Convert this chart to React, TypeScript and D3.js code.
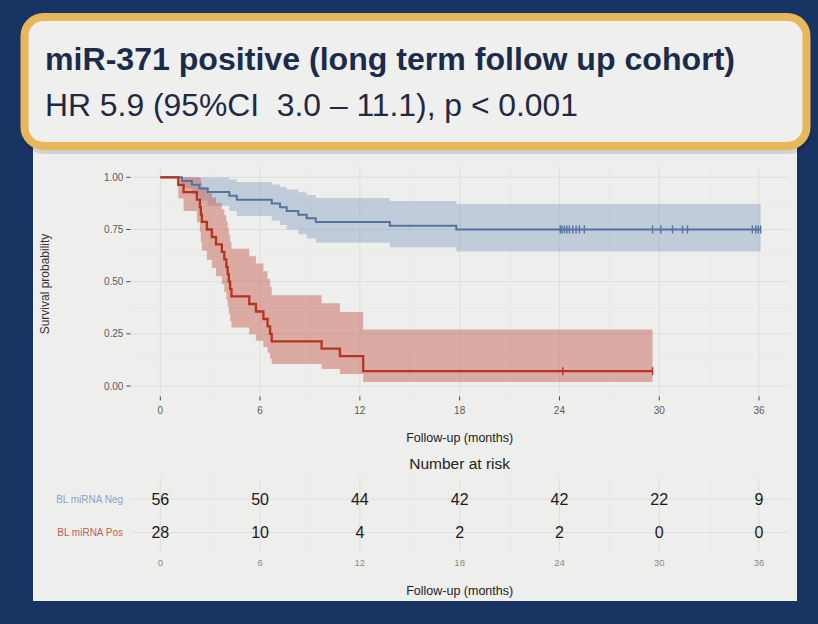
// Kaplan-Meier panel: survival by baseline miR-371 status, with number-at-risk table
import React, {useEffect, useRef} from "react";
import * as d3 from "d3";

const title = "miR-371 positive (long term follow up cohort)";
const subtitle = "HR 5.9 (95%CI  3.0 \u2013 11.1), p < 0.001";

const groupNames = ["BL miRNA Neg", "BL miRNA Pos"];

// BL miRNA Neg: step times (months), survival and 95% band
const negTimes = [0, 1.3, 1.9, 2.35, 2.85, 4.15, 4.6, 6.7, 7.2, 7.6, 8.3, 8.8, 9.35, 13.8, 17.8, 36.1];
const negSurv = [1, 0.982, 0.964, 0.946, 0.929, 0.911, 0.893, 0.875, 0.857, 0.839, 0.821, 0.804, 0.786, 0.768, 0.75, 0.75];
const negLower = [1, 0.948, 0.917, 0.889, 0.864, 0.839, 0.815, 0.793, 0.771, 0.749, 0.727, 0.707, 0.686, 0.665, 0.645, 0.645];
const negUpper = [1, 1, 1, 1, 0.999, 0.989, 0.978, 0.966, 0.954, 0.941, 0.928, 0.915, 0.901, 0.887, 0.872, 0.872];
const negCensored = [24.05, 24.15, 24.3, 24.45, 24.6, 24.8, 25.0, 25.2, 25.5, 29.6, 30.1, 30.8, 31.4, 31.7, 35.6, 35.8, 35.95, 36.1];

// BL miRNA Pos
const posTimes = [0, 1.08, 1.4, 2.2, 2.38, 2.44, 2.5, 2.8, 3.1, 3.35, 3.7, 3.85, 3.97, 4.05, 4.12, 4.2, 4.28, 5.35, 5.75, 6.2, 6.45, 6.6, 6.7, 9.7, 10.8, 12.2, 29.6];
const posSurv = [1, 0.964, 0.929, 0.893, 0.857, 0.821, 0.786, 0.75, 0.714, 0.679, 0.643, 0.607, 0.571, 0.536, 0.5, 0.464, 0.429, 0.393, 0.357, 0.321, 0.286, 0.25, 0.214, 0.179, 0.143, 0.071, 0.071];
const posLower = [1, 0.898, 0.838, 0.785, 0.737, 0.691, 0.648, 0.605, 0.565, 0.526, 0.488, 0.451, 0.415, 0.38, 0.345, 0.312, 0.28, 0.248, 0.217, 0.187, 0.159, 0.131, 0.105, 0.081, 0.058, 0.019, 0.019];
const posUpper = [1, 1, 1, 1, 0.997, 0.976, 0.954, 0.929, 0.903, 0.876, 0.847, 0.818, 0.788, 0.757, 0.724, 0.691, 0.658, 0.622, 0.587, 0.55, 0.513, 0.475, 0.435, 0.396, 0.354, 0.271, 0.271];
const posCensored = [24.2, 29.6];

// number at risk
const riskTimes = [0, 6, 12, 18, 24, 30, 36];
const negAtRisk = [56, 50, 44, 42, 42, 22, 9];
const posAtRisk = [28, 10, 4, 2, 2, 0, 0];

const xTicks = [0, 6, 12, 18, 24, 30, 36];
const xMinor = [3, 9, 15, 21, 27, 33];
const yTicks = [0, 0.25, 0.5, 0.75, 1];
const yMinor = [0.125, 0.375, 0.625, 0.875];

const FONT = "'Liberation Sans', Arial, Helvetica, sans-serif";

const drawChart = (el: SVGSVGElement) => {
  const W = 818;
  const H = 624;
  const svg = d3.select(el);
  svg.selectAll("*").remove();

  svg.append("rect").attr("width", W).attr("height", H).attr("fill", "#173462");
  svg.append("rect")
    .attr("x", 33).attr("y", 130)
    .attr("width", 764).attr("height", 471)
    .attr("fill", "#eeeeed");

  // header box, with a soft shadow under it
  svg.append("rect")
    .attr("x", 25.5).attr("y", 20)
    .attr("width", 782).attr("height", 130)
    .attr("rx", 19)
    .attr("fill", "none")
    .attr("stroke", "#000")
    .attr("stroke-opacity", 0.12)
    .attr("stroke-width", 8);
  svg.append("rect")
    .attr("x", 24.5).attr("y", 17)
    .attr("width", 782).attr("height", 129)
    .attr("rx", 19)
    .attr("fill", "#efefee")
    .attr("stroke", "#e8b65b")
    .attr("stroke-width", 8);
  svg.append("text")
    .attr("x", 45).attr("y", 70)
    .attr("font-family", FONT)
    .attr("font-size", 31)
    .attr("font-weight", "bold")
    .attr("fill", "#1b2b4b")
    .attr("textLength", 690)
    .attr("lengthAdjust", "spacingAndGlyphs")
    .text(title);
  svg.append("text")
    .attr("x", 45).attr("y", 116)
    .attr("font-family", FONT)
    .attr("font-size", 31)
    .attr("fill", "#1e2a44")
    .attr("textLength", 533)
    .attr("lengthAdjust", "spacingAndGlyphs")
    .style("white-space", "pre")
    .text(subtitle);

  const x = d3.scaleLinear().domain([0, 36]).range([160.3, 759]);
  const y = d3.scaleLinear().domain([0, 1]).range([386, 177.3]);
  const px0 = x(-1.8), px1 = x(37.8);
  const py0 = y(1.05), py1 = y(-0.05);

  // plot grid
  const grid = svg.append("g");
  grid.selectAll(".vminor").data(xMinor).enter().append("line")
    .attr("x1", d => x(d)).attr("x2", d => x(d))
    .attr("y1", py0).attr("y2", py1)
    .attr("stroke", "#e6e6e6").attr("stroke-width", 0.7);
  grid.selectAll(".hminor").data(yMinor).enter().append("line")
    .attr("x1", px0).attr("x2", px1)
    .attr("y1", d => y(d)).attr("y2", d => y(d))
    .attr("stroke", "#e6e6e6").attr("stroke-width", 0.7);
  grid.selectAll(".vmajor").data(xTicks).enter().append("line")
    .attr("x1", d => x(d)).attr("x2", d => x(d))
    .attr("y1", py0).attr("y2", py1)
    .attr("stroke", "#dedede").attr("stroke-width", 1);
  grid.selectAll(".hmajor").data(yTicks).enter().append("line")
    .attr("x1", px0).attr("x2", px1)
    .attr("y1", d => y(d)).attr("y2", d => y(d))
    .attr("stroke", "#dedede").attr("stroke-width", 1);

  const groups = [
    {times: negTimes, surv: negSurv, lo: negLower, hi: negUpper, cens: negCensored, line: "#54739f", band: "#7d98bf", alpha: 0.4, width: 2},
    {times: posTimes, surv: posSurv, lo: posLower, hi: posUpper, cens: posCensored, line: "#b5331f", band: "#c4574a", alpha: 0.45, width: 2.3},
  ];

  groups.forEach(g => {
    const idx = d3.range(g.times.length);
    const area = d3.area<number>()
      .x(i => x(g.times[i]))
      .y0(i => y(g.lo[i]))
      .y1(i => y(g.hi[i]))
      .curve(d3.curveStepAfter);
    svg.append("path")
      .attr("d", area(idx))
      .attr("fill", g.band)
      .attr("fill-opacity", g.alpha);
  });

  groups.forEach(g => {
    const idx = d3.range(g.times.length);
    const line = d3.line<number>()
      .x(i => x(g.times[i]))
      .y(i => y(g.surv[i]))
      .curve(d3.curveStepAfter);
    svg.append("path")
      .attr("d", line(idx))
      .attr("fill", "none")
      .attr("stroke", g.line)
      .attr("stroke-width", g.width);
    // censoring marks
    svg.append("g").selectAll("line").data(g.cens).enter().append("line")
      .attr("x1", d => x(d)).attr("x2", d => x(d))
      .attr("y1", d => y(g.surv[d3.bisectRight(g.times, d) - 1]) - 4)
      .attr("y2", d => y(g.surv[d3.bisectRight(g.times, d) - 1]) + 4)
      .attr("stroke", g.line)
      .attr("stroke-width", 1.4);
  });

  // axes
  svg.append("g").selectAll("line").data(yTicks).enter().append("line")
    .attr("x1", px0 - 4).attr("x2", px0)
    .attr("y1", d => y(d)).attr("y2", d => y(d))
    .attr("stroke", "#444").attr("stroke-width", 1);
  svg.append("g").selectAll("text").data(yTicks).enter().append("text")
    .attr("x", px0 - 7).attr("y", d => y(d))
    .attr("dy", "0.35em")
    .attr("text-anchor", "end")
    .attr("font-family", FONT).attr("font-size", 10)
    .attr("fill", "#5a5a5a")
    .text(d => d3.format(".2f")(d));
  svg.append("g").selectAll("line").data(xTicks).enter().append("line")
    .attr("x1", d => x(d)).attr("x2", d => x(d))
    .attr("y1", py1).attr("y2", py1 + 4)
    .attr("stroke", "#444").attr("stroke-width", 1);
  svg.append("g").selectAll("text").data(xTicks).enter().append("text")
    .attr("x", d => x(d)).attr("y", 410)
    .attr("dy", "0.35em")
    .attr("text-anchor", "middle")
    .attr("font-family", FONT).attr("font-size", 10)
    .attr("fill", "#5a5a5a")
    .text(d => d);

  svg.append("text")
    .attr("transform", "translate(45, 284) rotate(-90)")
    .attr("text-anchor", "middle")
    .attr("dy", "0.35em")
    .attr("font-family", FONT).attr("font-size", 12)
    .attr("fill", "#333")
    .text("Survival probability");
  svg.append("text")
    .attr("x", (px0 + px1) / 2).attr("y", 438)
    .attr("dy", "0.35em")
    .attr("text-anchor", "middle")
    .attr("font-family", FONT).attr("font-size", 12.5)
    .attr("fill", "#222")
    .text("Follow-up (months)");

  // risk table
  svg.append("text")
    .attr("x", (px0 + px1) / 2).attr("y", 464)
    .attr("dy", "0.35em")
    .attr("text-anchor", "middle")
    .attr("font-family", FONT).attr("font-size", 15.5)
    .attr("fill", "#222")
    .text("Number at risk");

  const rowY = [499, 532.5];
  const rt0 = 478, rt1 = 552;
  const rgrid = svg.append("g");
  rgrid.selectAll(".rv").data(xMinor).enter().append("line")
    .attr("x1", d => x(d)).attr("x2", d => x(d))
    .attr("y1", rt0).attr("y2", rt1)
    .attr("stroke", "#e6e6e6").attr("stroke-width", 0.7);
  rgrid.selectAll(".rvm").data(xTicks).enter().append("line")
    .attr("x1", d => x(d)).attr("x2", d => x(d))
    .attr("y1", rt0).attr("y2", rt1)
    .attr("stroke", "#dedede").attr("stroke-width", 1);
  rgrid.selectAll(".rh").data(rowY).enter().append("line")
    .attr("x1", px0).attr("x2", px1)
    .attr("y1", d => d).attr("y2", d => d)
    .attr("stroke", "#dedede").attr("stroke-width", 1);

  const rows = [
    {name: groupNames[0], counts: negAtRisk, color: "#8ea2c4"},
    {name: groupNames[1], counts: posAtRisk, color: "#bd6152"},
  ];
  rows.forEach((r, ri) => {
    svg.append("text")
      .attr("x", 123).attr("y", rowY[ri])
      .attr("dy", "0.35em")
      .attr("text-anchor", "end")
      .attr("font-family", FONT).attr("font-size", 10)
      .attr("fill", r.color)
      .text(r.name);
    svg.append("g").selectAll("text").data(r.counts).enter().append("text")
      .attr("x", (d, i) => x(riskTimes[i])).attr("y", rowY[ri])
      .attr("dy", "0.35em")
      .attr("text-anchor", "middle")
      .attr("font-family", FONT).attr("font-size", 16)
      .attr("fill", "#1a1a1a")
      .text(d => d);
  });

  svg.append("g").selectAll("text").data(xTicks).enter().append("text")
    .attr("x", d => x(d)).attr("y", 563)
    .attr("dy", "0.35em")
    .attr("text-anchor", "middle")
    .attr("font-family", FONT).attr("font-size", 9.5)
    .attr("fill", "#8a8a8a")
    .text(d => d);
  svg.append("text")
    .attr("x", (px0 + px1) / 2).attr("y", 591)
    .attr("dy", "0.35em")
    .attr("text-anchor", "middle")
    .attr("font-family", FONT).attr("font-size", 12.5)
    .attr("fill", "#222")
    .text("Follow-up (months)");
};

export default function App() {
  const ref = useRef<SVGSVGElement>(null);

  useEffect(() => {
    if (ref.current) drawChart(ref.current);
  }, []);

  return (
    <svg ref={ref} width={818} height={624}
      style={{position: "absolute", left: 0, top: 0, display: "block"}} />
  );
}
